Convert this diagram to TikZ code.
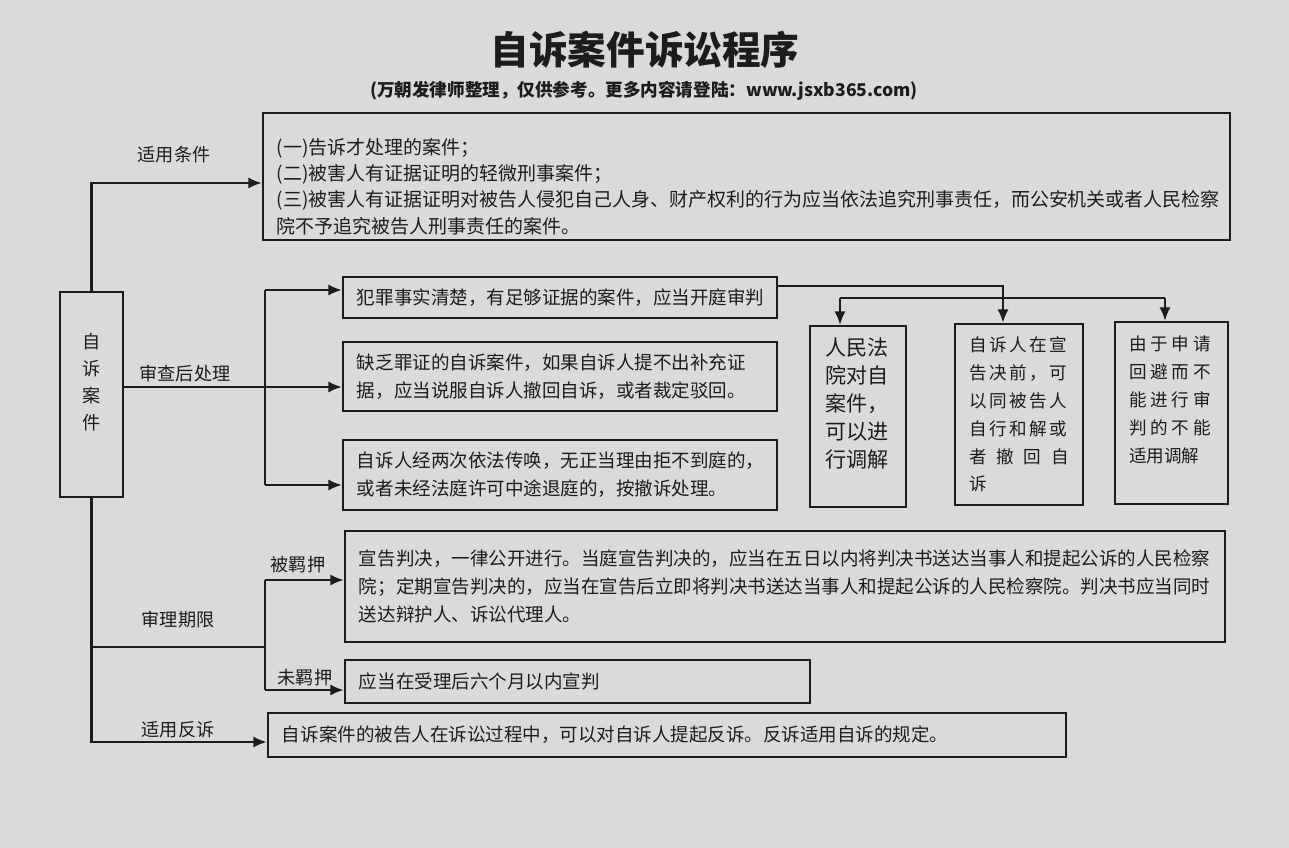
\documentclass[tikz,border=0pt]{standalone}
\usepackage{fontspec}
\setmainfont{Noto Sans CJK SC}
\usepackage{tikz}
\usetikzlibrary{arrows.meta}
\definecolor{paper}{RGB}{218,218,218}
\definecolor{ink}{RGB}{28,28,28}
\tikzset{
  box/.style={draw=ink, line width=2pt, inner xsep=0.42cm, inner ysep=0pt, align=left, text=ink, font=\fontsize{15.8}{23.8}\selectfont},
  lab/.style={text=ink, font=\fontsize{15.5}{20}\selectfont},
  link/.style={draw=ink, line width=1.8pt}
}

\begin{document}
\begin{tikzpicture}[x=0.03cm, y=-0.03cm, >={Latex[length=4mm,width=3.3mm]}]
  \fill[paper] (0,0) rectangle (1289,848);
  \node[text=ink, font=\fontsize{33}{40}\selectfont\bfseries] (title) at (645,50) {自诉案件诉讼程序};
  \node[text=ink, font=\fontsize{15}{18}\selectfont\bfseries] (sub) at (644,91) {(万朝发律师整理，仅供参考。更多内容请登陆：www.jsxb365.com)};

  % boxes
  \node[box, align=center, inner xsep=0pt, minimum width=1.89cm, minimum height=6.15cm, font=\fontsize{15.5}{23}\selectfont] (L) at (91.5,394.5) {自\\诉\\案\\件\\\mbox{}};
  \node[box, minimum width=29.01cm, minimum height=3.81cm, text width=28.17cm, font=\fontsize{16.2}{22.2}\selectfont] (T) at (746.5,176.5) {\rule{0pt}{1.1cm}(一)告诉才处理的案件；\\(二)被害人有证据证明的轻微刑事案件；\\(三)被害人有证据证明对被告人侵犯自己人身、财产权利的行为应当依法追究刑事责任，而公安机关或者人民检察\\院不予追究被告人刑事责任的案件。};
  \node[box, minimum width=13.02cm, minimum height=1.23cm, text width=12.18cm] (A) at (560,297.5) {犯罪事实清楚，有足够证据的案件，应当开庭审判};
  \node[box, minimum width=13.02cm, minimum height=2.07cm, text width=12.18cm] (B) at (560,376.5) {缺乏罪证的自诉案件，如果自诉人提不出补充证\\据，应当说服自诉人撤回自诉，或者裁定驳回。};
  \node[box, minimum width=13.02cm, minimum height=2.1cm, text width=12.18cm] (C) at (560,475) {自诉人经两次依法传唤，无正当理由拒不到庭的，\\或者未经法庭许可中途退庭的，按撤诉处理。};
  \node[box, inner xsep=0.45cm, minimum width=2.88cm, minimum height=5.43cm, text width=1.98cm, font=\fontsize{18}{24}\selectfont] (P1) at (858,416.5) {人民法\\院对自\\案件，\\可以进\\行调解\\\mbox{}};
  \node[box, inner xsep=0.42cm, minimum width=3.84cm, minimum height=5.43cm, text width=3.0cm, font=\fontsize{15}{23.8}\selectfont\addfontfeature{LetterSpace=14}] (P2) at (1019,414.5) {自诉人在宣\\告决前，可\\以同被告人\\自行和解或\\者\hfill 撤\hfill 回\hfill 自\\诉};
  \node[box, inner xsep=0.42cm, minimum width=3.39cm, minimum height=5.46cm, text width=2.55cm, font=\fontsize{15}{23.8}\selectfont\addfontfeature{LetterSpace=22}] (P3) at (1171.5,413) {由于申请\\回避而不\\能进行审\\判的不能\\{\addfontfeature{LetterSpace=0}适用调解}\\\mbox{}};
  \node[box, minimum width=26.4cm, minimum height=3.33cm, text width=25.56cm] (D) at (785,586.5) {宣告判决，一律公开进行。当庭宣告判决的，应当在五日以内将判决书送达当事人和提起公诉的人民检察\\院；定期宣告判决的，应当在宣告后立即将判决书送达当事人和提起公诉的人民检察院。判决书应当同时\\送达辩护人、诉讼代理人。};
  \node[box, minimum width=13.95cm, minimum height=1.29cm, text width=13.11cm] (E) at (577.5,681.5) {应当在受理后六个月以内宣判};
  \node[box, minimum width=23.94cm, minimum height=1.32cm, text width=23.1cm] (F) at (667,735) {自诉案件的被告人在诉讼过程中，可以对自诉人提起反诉。反诉适用自诉的规定。};

  % labels
  \node[lab] (lcond) at (174,155) {适用条件};
  \node[lab] (lcheck) at (185,374) {审查后处理};
  \node[lab] (lterm) at (178,620) {审理期限};
  \node[lab] (ldet) at (298,565) {被羁押};
  \node[lab] (lfree) at (305,678) {未羁押};
  \node[lab] (lcounter) at (178,730) {适用反诉};

  % connectors
  \coordinate (jT) at (91,183);
  \draw[link,->] (L.north) |- (T.west |- jT);

  \coordinate (jA) at (265,290);
  \coordinate (jB) at (265,387);
  \coordinate (jC) at (265,485);
  \draw[link] (jA) -- (jC);
  \draw[link,->] (jA) -- (A.west |- jA);
  \draw[link,->] (L.east |- jB) -- (B.west |- jB);
  \draw[link,->] (jC) -- (C.west |- jC);

  \coordinate (hA) at (1003,286);
  \coordinate (hP1) at (840,298);
  \coordinate (hP3) at (1165,298);
  \draw[link,->] (A.east |- hA) -| (P2.north -| hA);
  \draw[link] (hP1) -- (hP3);
  \draw[link,->] (hP1) -- (P1.north -| hP1);
  \draw[link,->] (hP3) -- (P3.north -| hP3);

  \coordinate (jF) at (95,742);
  \coordinate (jM) at (265,647);
  \coordinate (jD) at (265,580);
  \coordinate (jE) at (265,690);
  \draw[link,->] (L.south) |- (F.west |- jF);
  \draw[link] (L.south |- jM) -- (jM);
  \draw[link] (jD) -- (jE);
  \draw[link,->] (jD) -- (D.west |- jD);
  \draw[link,->] (jE) -- (E.west |- jE);
\end{tikzpicture}
\end{document}
